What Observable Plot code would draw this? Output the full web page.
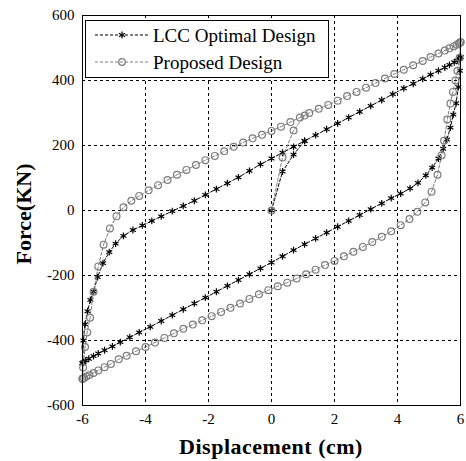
<!DOCTYPE html>
<html><head><meta charset="utf-8">
<script src="https://cdn.jsdelivr.net/npm/d3@7"></script>
<script src="https://cdn.jsdelivr.net/npm/@observablehq/plot@0.6"></script>
<style>body{margin:0;background:#fff}</style>
</head><body><div id="chart"></div>
<script>
const xTicks = [-6, -4, -2, 0, 2, 4, 6];
const yTicks = [-600, -400, -200, 0, 200, 400, 600];
const seriesNames = ["LCC Optimal Design", "Proposed Design"];

// LCC Optimal Design
const lccInitX = [0, 0.35, 0.7, 1.05];
const lccInitY = [0, 120, 172, 214];
const lccUpperX = [-6.0, -5.97, -5.92, -5.84, -5.75, -5.65, -5.52, -5.35, -5.15, -4.95, -4.7, -4.4, -4.1, -3.8, -3.5, -3.15, -2.8, -2.45, -2.1, -1.75, -1.4, -1.05, -0.7, -0.35, 0.0, 0.35, 0.7, 1.05, 1.4, 1.75, 2.1, 2.45, 2.8, 3.15, 3.5, 3.85, 4.2, 4.5, 4.8, 5.05, 5.3, 5.5, 5.65, 5.8, 5.9, 5.97, 6.0];
const lccUpperY = [-470, -400, -350, -310, -275, -250, -205, -162, -128, -102, -78, -60, -46, -32, -18, -2, 14, 30, 48, 66, 84, 102, 122, 142, 160, 178, 196, 214, 232, 250, 268, 286, 304, 322, 340, 358, 376, 390, 405, 418, 430, 440, 448, 456, 462, 467, 472];
const lccLowerX = [6.0, 5.98, 5.93, 5.86, 5.77, 5.68, 5.57, 5.45, 5.3, 5.1, 4.9, 4.65, 4.4, 4.1, 3.8, 3.5, 3.15, 2.8, 2.45, 2.1, 1.75, 1.4, 1.05, 0.7, 0.35, 0.0, -0.35, -0.7, -1.05, -1.4, -1.75, -2.1, -2.45, -2.8, -3.15, -3.5, -3.85, -4.2, -4.5, -4.8, -5.05, -5.3, -5.5, -5.65, -5.8, -5.9, -5.97, -6.0];
const lccLowerY = [472, 430, 380, 330, 295, 255, 218, 190, 160, 132, 108, 85, 68, 52, 38, 22, 4, -14, -32, -50, -68, -86, -104, -122, -141, -160, -178, -196, -214, -232, -250, -268, -286, -304, -322, -340, -358, -375, -390, -405, -418, -430, -440, -448, -456, -462, -467, -470];

// Proposed Design
const propInitX = [0, 0.35, 0.7, 1.05];
const propInitY = [0, 163, 246, 292];
const propUpperX = [-6.0, -5.98, -5.92, -5.85, -5.76, -5.65, -5.5, -5.33, -5.13, -4.92, -4.7, -4.45, -4.2, -3.9, -3.6, -3.3, -3.0, -2.7, -2.4, -2.1, -1.8, -1.5, -1.2, -0.9, -0.6, -0.3, 0.0, 0.3, 0.6, 0.9, 1.2, 1.5, 1.8, 2.1, 2.4, 2.7, 3.0, 3.3, 3.6, 3.9, 4.2, 4.5, 4.8, 5.05, 5.3, 5.5, 5.65, 5.78, 5.88, 5.95, 6.0];
const propUpperY = [-518, -483, -420, -375, -330, -250, -172, -105, -55, -18, 10, 30, 45, 62, 78, 94, 110, 125, 140, 155, 168, 182, 196, 209, 222, 233, 245, 258, 272, 286, 300, 313, 325, 338, 352, 365, 378, 392, 406, 420, 433, 447, 460, 472, 483, 492, 499, 505, 510, 514, 518];
const propLowerX = [6.0, 5.97, 5.9, 5.84, 5.76, 5.68, 5.58, 5.48, 5.4, 5.27, 5.08, 4.88, 4.63, 4.38, 4.1, 3.8, 3.5, 3.2, 2.9, 2.6, 2.3, 2.0, 1.7, 1.4, 1.1, 0.8, 0.5, 0.2, -0.1, -0.4, -0.7, -1.0, -1.3, -1.6, -1.9, -2.2, -2.5, -2.8, -3.1, -3.4, -3.7, -4.0, -4.3, -4.6, -4.85, -5.1, -5.3, -5.5, -5.65, -5.78, -5.88, -5.95, -6.0];
const propLowerY = [518, 470, 430, 400, 365, 329, 280, 215, 170, 110, 58, 25, -4, -26, -45, -64, -81, -97, -112, -127, -141, -155, -168, -182, -196, -209, -222, -233, -245, -258, -272, -286, -299, -312, -325, -338, -351, -364, -378, -392, -406, -420, -433, -447, -458, -472, -482, -492, -500, -506, -511, -515, -518];

function rows(series, seg, xs, ys) { return xs.map((x, i) => ({series, seg: series + seg, x, y: ys[i]})); }
const lcc = [
  ...rows(seriesNames[0], "init", lccInitX, lccInitY),
  ...rows(seriesNames[0], "upper", lccUpperX, lccUpperY),
  ...rows(seriesNames[0], "lower", lccLowerX, lccLowerY)
];
const prop = [
  ...rows(seriesNames[1], "init", propInitX, propInitY),
  ...rows(seriesNames[1], "upper", propUpperX, propUpperY),
  ...rows(seriesNames[1], "lower", propLowerX, propLowerY)
];

const serif = "'Liberation Serif', 'Times New Roman', serif";
const gray = "#7c7c7c";

const svg = Plot.plot({
  width: 466, height: 461,
  marginLeft: 82, marginRight: 6, marginTop: 15, marginBottom: 56,
  style: {fontFamily: serif, fontSize: "15px", color: "black", background: "white", overflow: "visible"},
  x: {domain: [-6, 6], label: null},
  y: {domain: [-600, 600], label: null},
  marks: [
    Plot.gridX(xTicks.slice(1, -1), {stroke: "black", strokeOpacity: 1, strokeDasharray: "3,3"}),
    Plot.gridY(yTicks.slice(1, -1), {stroke: "black", strokeOpacity: 1, strokeDasharray: "3,3"}),
    Plot.axisX(xTicks, {tickSize: 0, tickPadding: 8, label: null, tickFormat: d => String(d)}),
    Plot.axisY(yTicks, {tickSize: 0, tickPadding: 8, label: null, tickFormat: d => String(d)}),
    Plot.line(lcc, {x: "x", y: "y", z: "seg", stroke: "black", strokeWidth: 1, strokeDasharray: "3,2"}),
    Plot.dot(lcc, {x: "x", y: "y", symbol: "asterisk", r: 3.2, stroke: "black", strokeWidth: 1.2}),
    Plot.line(prop, {x: "x", y: "y", z: "seg", stroke: gray, strokeWidth: 1, strokeDasharray: "3,2"}),
    Plot.dot(prop, {x: "x", y: "y", symbol: "circle", r: 3.4, stroke: gray, fill: "none", strokeWidth: 1.2}),
    Plot.frame({stroke: "black", strokeWidth: 1})
  ]
});

const s = d3.select(svg);
// axis titles
s.append("text").attr("x", 271).attr("y", 454).attr("text-anchor", "middle")
  .attr("font-family", serif).attr("font-weight", "bold").attr("font-size", 22).attr("fill", "black")
  .attr("letter-spacing", 0.5)
  .text("Displacement (cm)");
s.append("text").attr("transform", "translate(31,214) rotate(-90)").attr("text-anchor", "middle")
  .attr("font-family", serif).attr("font-weight", "bold").attr("font-size", 22).attr("fill", "black")
  .text("Force(KN)");

// legend
const lg = s.append("g");
lg.append("rect").attr("x", 85.5).attr("y", 20.5).attr("width", 243).attr("height", 57)
  .attr("fill", "white").attr("stroke", "black");
const entries = [
  {name: seriesNames[0], y: 35, color: "black", sym: d3.symbolAsterisk},
  {name: seriesNames[1], y: 62, color: gray, sym: d3.symbolCircle}
];
entries.forEach(e => {
  lg.append("line").attr("x1", 95).attr("x2", 148).attr("y1", e.y).attr("y2", e.y)
    .attr("stroke", e.color).attr("stroke-dasharray", "3,2");
  lg.append("path").attr("d", d3.symbol(e.sym, Math.PI * 3.3 * 3.3)())
    .attr("transform", `translate(122,${e.y})`).attr("stroke", e.color).attr("fill", "none").attr("stroke-width", 1.2);
  lg.append("text").attr("x", 153).attr("y", e.y + 6.5).attr("text-anchor", "start").attr("font-family", serif)
    .attr("font-size", 19).attr("fill", "black").text(e.name);
});

document.getElementById("chart").appendChild(svg);
</script>
</body></html>
